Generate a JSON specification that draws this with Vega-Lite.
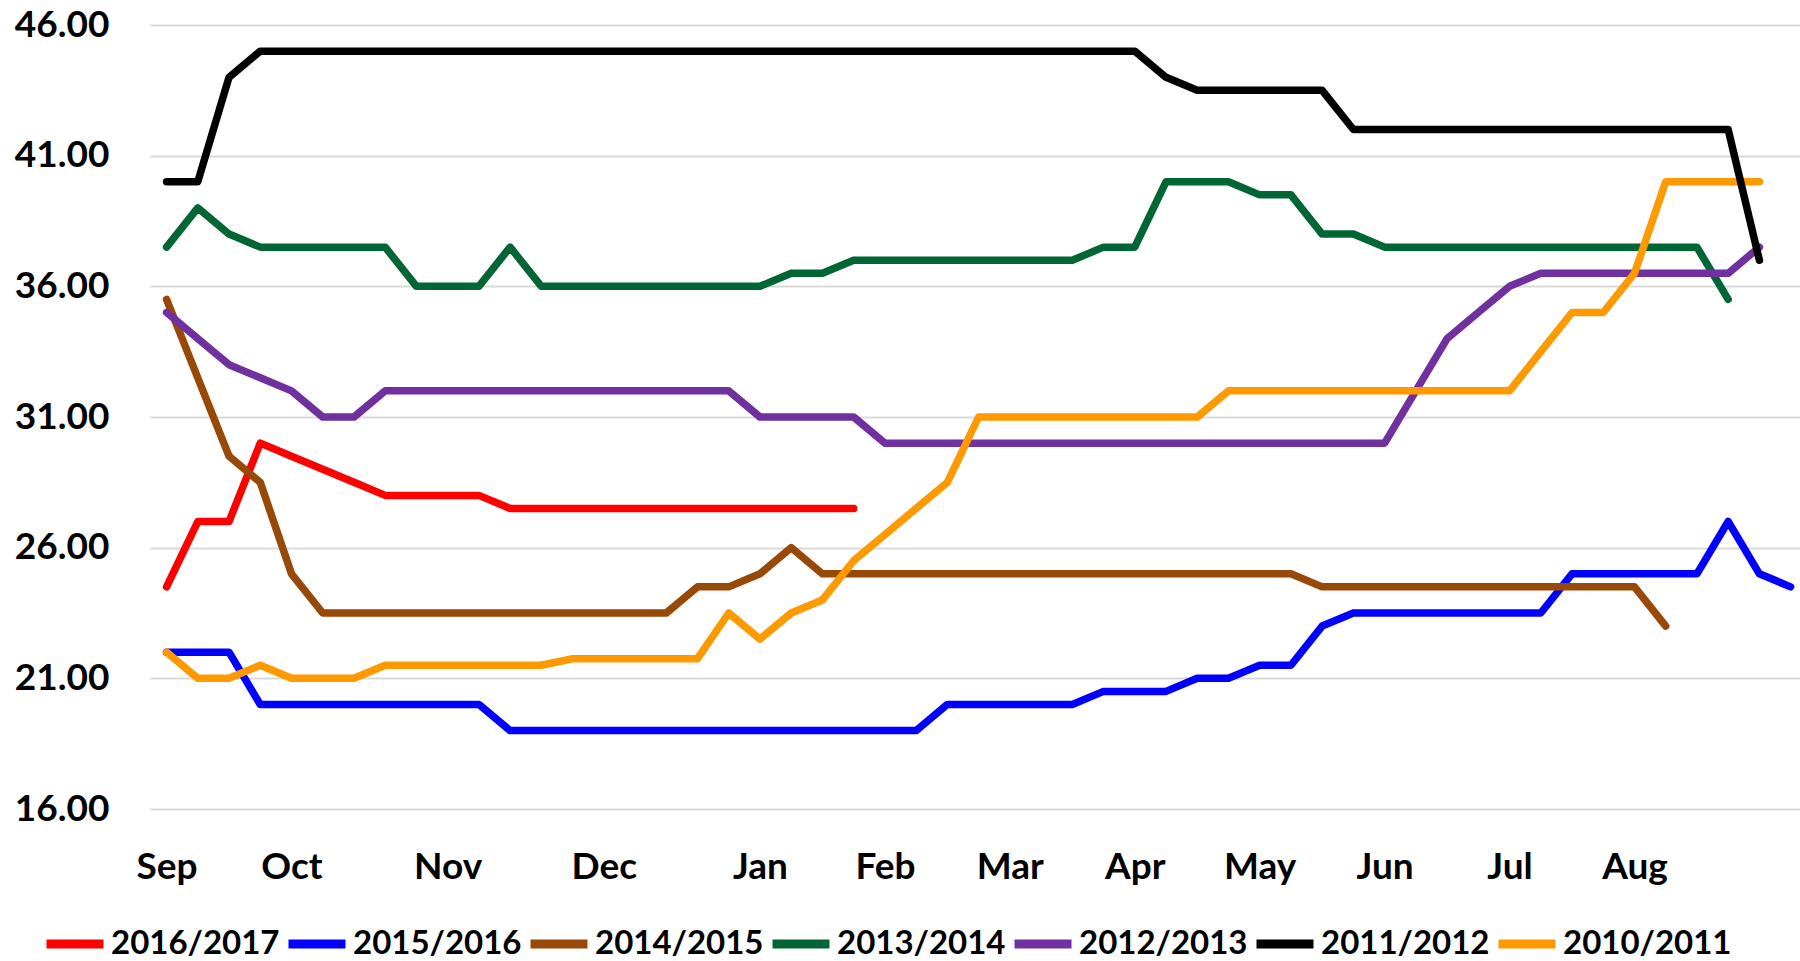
{
  "$schema": "https://vega.github.io/schema/vega-lite/v6.json",
  "width": 1650,
  "height": 784,
  "autosize": {"type": "none"},
  "padding": {"left": 150, "top": 25, "right": 0, "bottom": 152},
  "background": "white",
  "config": {"view": {"stroke": null}, "font": "Lato"},
  "data": {"values": [
    {"w":0,"2016/2017":24.5,"2015/2016":22,"2014/2015":35.5,"2013/2014":37.5,"2012/2013":35,"2010/2011":22,"2011/2012":40},
    {"w":1,"2016/2017":27,"2015/2016":22,"2014/2015":32.5,"2013/2014":39,"2012/2013":34,"2010/2011":21,"2011/2012":40},
    {"w":2,"2016/2017":27,"2015/2016":22,"2014/2015":29.5,"2013/2014":38,"2012/2013":33,"2010/2011":21,"2011/2012":44},
    {"w":3,"2016/2017":30,"2015/2016":20,"2014/2015":28.5,"2013/2014":37.5,"2012/2013":32.5,"2010/2011":21.5,"2011/2012":45},
    {"w":4,"2016/2017":29.5,"2015/2016":20,"2014/2015":25,"2013/2014":37.5,"2012/2013":32,"2010/2011":21,"2011/2012":45},
    {"w":5,"2016/2017":29,"2015/2016":20,"2014/2015":23.5,"2013/2014":37.5,"2012/2013":31,"2010/2011":21,"2011/2012":45},
    {"w":6,"2016/2017":28.5,"2015/2016":20,"2014/2015":23.5,"2013/2014":37.5,"2012/2013":31,"2010/2011":21,"2011/2012":45},
    {"w":7,"2016/2017":28,"2015/2016":20,"2014/2015":23.5,"2013/2014":37.5,"2012/2013":32,"2010/2011":21.5,"2011/2012":45},
    {"w":8,"2016/2017":28,"2015/2016":20,"2014/2015":23.5,"2013/2014":36,"2012/2013":32,"2010/2011":21.5,"2011/2012":45},
    {"w":9,"2016/2017":28,"2015/2016":20,"2014/2015":23.5,"2013/2014":36,"2012/2013":32,"2010/2011":21.5,"2011/2012":45},
    {"w":10,"2016/2017":28,"2015/2016":20,"2014/2015":23.5,"2013/2014":36,"2012/2013":32,"2010/2011":21.5,"2011/2012":45},
    {"w":11,"2016/2017":27.5,"2015/2016":19,"2014/2015":23.5,"2013/2014":37.5,"2012/2013":32,"2010/2011":21.5,"2011/2012":45},
    {"w":12,"2016/2017":27.5,"2015/2016":19,"2014/2015":23.5,"2013/2014":36,"2012/2013":32,"2010/2011":21.5,"2011/2012":45},
    {"w":13,"2016/2017":27.5,"2015/2016":19,"2014/2015":23.5,"2013/2014":36,"2012/2013":32,"2010/2011":21.75,"2011/2012":45},
    {"w":14,"2016/2017":27.5,"2015/2016":19,"2014/2015":23.5,"2013/2014":36,"2012/2013":32,"2010/2011":21.75,"2011/2012":45},
    {"w":15,"2016/2017":27.5,"2015/2016":19,"2014/2015":23.5,"2013/2014":36,"2012/2013":32,"2010/2011":21.75,"2011/2012":45},
    {"w":16,"2016/2017":27.5,"2015/2016":19,"2014/2015":23.5,"2013/2014":36,"2012/2013":32,"2010/2011":21.75,"2011/2012":45},
    {"w":17,"2016/2017":27.5,"2015/2016":19,"2014/2015":24.5,"2013/2014":36,"2012/2013":32,"2010/2011":21.75,"2011/2012":45},
    {"w":18,"2016/2017":27.5,"2015/2016":19,"2014/2015":24.5,"2013/2014":36,"2012/2013":32,"2010/2011":23.5,"2011/2012":45},
    {"w":19,"2016/2017":27.5,"2015/2016":19,"2014/2015":25,"2013/2014":36,"2012/2013":31,"2010/2011":22.5,"2011/2012":45},
    {"w":20,"2016/2017":27.5,"2015/2016":19,"2014/2015":26,"2013/2014":36.5,"2012/2013":31,"2010/2011":23.5,"2011/2012":45},
    {"w":21,"2016/2017":27.5,"2015/2016":19,"2014/2015":25,"2013/2014":36.5,"2012/2013":31,"2010/2011":24,"2011/2012":45},
    {"w":22,"2016/2017":27.5,"2015/2016":19,"2014/2015":25,"2013/2014":37,"2012/2013":31,"2010/2011":25.5,"2011/2012":45},
    {"w":23,"2015/2016":19,"2014/2015":25,"2013/2014":37,"2012/2013":30,"2010/2011":26.5,"2011/2012":45},
    {"w":24,"2015/2016":19,"2014/2015":25,"2013/2014":37,"2012/2013":30,"2010/2011":27.5,"2011/2012":45},
    {"w":25,"2015/2016":20,"2014/2015":25,"2013/2014":37,"2012/2013":30,"2010/2011":28.5,"2011/2012":45},
    {"w":26,"2015/2016":20,"2014/2015":25,"2013/2014":37,"2012/2013":30,"2010/2011":31,"2011/2012":45},
    {"w":27,"2015/2016":20,"2014/2015":25,"2013/2014":37,"2012/2013":30,"2010/2011":31,"2011/2012":45},
    {"w":28,"2015/2016":20,"2014/2015":25,"2013/2014":37,"2012/2013":30,"2010/2011":31,"2011/2012":45},
    {"w":29,"2015/2016":20,"2014/2015":25,"2013/2014":37,"2012/2013":30,"2010/2011":31,"2011/2012":45},
    {"w":30,"2015/2016":20.5,"2014/2015":25,"2013/2014":37.5,"2012/2013":30,"2010/2011":31,"2011/2012":45},
    {"w":31,"2015/2016":20.5,"2014/2015":25,"2013/2014":37.5,"2012/2013":30,"2010/2011":31,"2011/2012":45},
    {"w":32,"2015/2016":20.5,"2014/2015":25,"2013/2014":40,"2012/2013":30,"2010/2011":31,"2011/2012":44},
    {"w":33,"2015/2016":21,"2014/2015":25,"2013/2014":40,"2012/2013":30,"2010/2011":31,"2011/2012":43.5},
    {"w":34,"2015/2016":21,"2014/2015":25,"2013/2014":40,"2012/2013":30,"2010/2011":32,"2011/2012":43.5},
    {"w":35,"2015/2016":21.5,"2014/2015":25,"2013/2014":39.5,"2012/2013":30,"2010/2011":32,"2011/2012":43.5},
    {"w":36,"2015/2016":21.5,"2014/2015":25,"2013/2014":39.5,"2012/2013":30,"2010/2011":32,"2011/2012":43.5},
    {"w":37,"2015/2016":23,"2014/2015":24.5,"2013/2014":38,"2012/2013":30,"2010/2011":32,"2011/2012":43.5},
    {"w":38,"2015/2016":23.5,"2014/2015":24.5,"2013/2014":38,"2012/2013":30,"2010/2011":32,"2011/2012":42},
    {"w":39,"2015/2016":23.5,"2014/2015":24.5,"2013/2014":37.5,"2012/2013":30,"2010/2011":32,"2011/2012":42},
    {"w":40,"2015/2016":23.5,"2014/2015":24.5,"2013/2014":37.5,"2012/2013":32,"2010/2011":32,"2011/2012":42},
    {"w":41,"2015/2016":23.5,"2014/2015":24.5,"2013/2014":37.5,"2012/2013":34,"2010/2011":32,"2011/2012":42},
    {"w":42,"2015/2016":23.5,"2014/2015":24.5,"2013/2014":37.5,"2012/2013":35,"2010/2011":32,"2011/2012":42},
    {"w":43,"2015/2016":23.5,"2014/2015":24.5,"2013/2014":37.5,"2012/2013":36,"2010/2011":32,"2011/2012":42},
    {"w":44,"2015/2016":23.5,"2014/2015":24.5,"2013/2014":37.5,"2012/2013":36.5,"2010/2011":33.5,"2011/2012":42},
    {"w":45,"2015/2016":25,"2014/2015":24.5,"2013/2014":37.5,"2012/2013":36.5,"2010/2011":35,"2011/2012":42},
    {"w":46,"2015/2016":25,"2014/2015":24.5,"2013/2014":37.5,"2012/2013":36.5,"2010/2011":35,"2011/2012":42},
    {"w":47,"2015/2016":25,"2014/2015":24.5,"2013/2014":37.5,"2012/2013":36.5,"2010/2011":36.5,"2011/2012":42},
    {"w":48,"2015/2016":25,"2014/2015":23,"2013/2014":37.5,"2012/2013":36.5,"2010/2011":40,"2011/2012":42},
    {"w":49,"2015/2016":25,"2013/2014":37.5,"2012/2013":36.5,"2010/2011":40,"2011/2012":42},
    {"w":50,"2015/2016":27,"2013/2014":35.5,"2012/2013":36.5,"2010/2011":40,"2011/2012":42},
    {"w":51,"2015/2016":25,"2012/2013":37.5,"2010/2011":40,"2011/2012":37},
    {"w":52,"2015/2016":24.5}
  ]},
  "transform": [
    {"fold": ["2016/2017","2015/2016","2014/2015","2013/2014","2012/2013","2010/2011","2011/2012"], "as": ["season","price"]},
    {"filter": "isValid(datum.price)"}
  ],
  "mark": {"type": "line", "strokeWidth": 7.5, "strokeCap": "round", "strokeJoin": "round"},
  "encoding": {
    "x": {
      "field": "w", "type": "quantitative",
      "scale": {"domain": [-0.53, 52.3], "nice": false, "zero": false},
      "axis": {
        "values": [0,4,9,14,19,23,27,31,35,39,43,47],
        "labelExpr": "['Sep','Oct','Nov','Dec','Jan','Feb','Mar','Apr','May','Jun','Jul','Aug'][indexof([0,4,9,14,19,23,27,31,35,39,43,47], datum.value)]",
        "title": null, "domain": false, "ticks": false, "grid": false,
        "labelPadding": 40, "labelBaseline": "top", "labelFlush": false, "labelOverlap": false,
        "labelFont": "Lato", "labelFontSize": 37, "labelFontWeight": "bold", "labelColor": "#000000"
      }
    },
    "y": {
      "field": "price", "type": "quantitative",
      "scale": {"domain": [16, 46], "nice": false, "zero": false},
      "axis": {
        "values": [16,21,26,31,36,41,46], "format": ".2f",
        "title": null, "domain": false, "ticks": false,
        "grid": true, "gridColor": "#D9D9D9", "gridWidth": 2,
        "labelPadding": 41, "labelOverlap": false,
        "labelFont": "Lato", "labelFontSize": 37, "labelFontWeight": "bold", "labelColor": "#000000"
      }
    },
    "color": {
      "field": "season", "type": "nominal",
      "scale": {
        "domain": ["2016/2017","2015/2016","2014/2015","2013/2014","2012/2013","2011/2012","2010/2011"],
        "range": ["#FF0000","#0000FF","#984807","#006633","#7030A0","#000000","#FF9900"]
      },
      "legend": {
        "orient": "none", "legendX": -108, "legendY": 886, "direction": "horizontal", "columns": 7,
        "title": null, "padding": 0,
        "symbolType": "stroke", "symbolSize": 3249, "symbolStrokeWidth": 9,
        "labelFont": "Lato", "labelFontSize": 33, "labelFontWeight": "bold", "labelColor": "#000000",
        "labelOffset": 3, "columnPadding": -10, "labelLimit": 0
      }
    }
  }
}
